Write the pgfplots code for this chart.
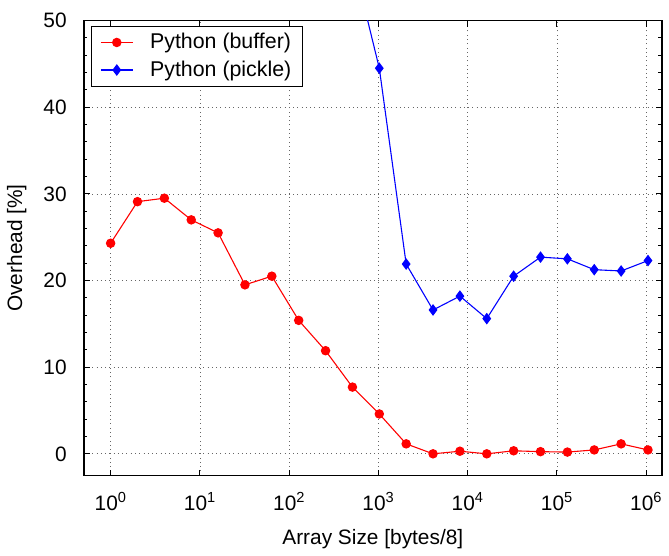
\documentclass[border=0pt]{standalone}
\usepackage{fontspec}
\setmainfont{Liberation Sans}
\usepackage{pgfplots}
\pgfplotsset{compat=1.18}
\begin{document}
\fontsize{21}{25}\selectfont
\begin{tikzpicture}
\begin{axis}[
  scale only axis, width=582pt, height=458pt,
  xmode=log, log basis x=10,
  xmin=0.5, xmax=1.5e6, ymin=-2.5, ymax=50,
  xtick={1,10,100,1000,10000,100000,1000000},
  xticklabels={10\textsuperscript{0},10\textsuperscript{1},10\textsuperscript{2},10\textsuperscript{3},10\textsuperscript{4},10\textsuperscript{5},10\textsuperscript{6}},
  ytick={0,10,20,30,40,50},
  minor y tick num=4,
  /pgf/number format/assume math mode=true,
  grid=major,
  grid style={black!60, line width=0.7pt, dash pattern=on 0.8pt off 3.5pt},
  axis line style={line width=1.6pt},
  tick style={black, line width=0.8pt},
  major tick length=6pt, minor tick length=3.5pt,
  xticklabel style={yshift=-10pt},
  yticklabel style={xshift=-10pt},
  xlabel={Array Size [bytes/8]},
  ylabel={Overhead [\%]},
  xlabel style={yshift=-5pt},
  ylabel style={yshift=3pt},
  legend style={at={(0,1)}, anchor=north west, xshift=7pt, yshift=-5pt,
    draw=black, line width=1.4pt, inner xsep=9pt, inner ysep=5pt,
    row sep=5pt, cells={anchor=west}, font=\fontsize{21.5}{25}\selectfont,
    /tikz/every odd column/.append style={column sep=15pt}},
  legend image code/.code={\draw[mark repeat=2,mark phase=2] plot coordinates {(0pt,0pt)(16pt,0pt)(32pt,0pt)};},
  clip=true,
]
\addplot[red, line width=1.1pt, mark=*, mark size=4.2pt, mark options={solid, fill=red, draw=red}] coordinates {
  (1,24.3) (2,29.1) (4,29.5) (8,27.0) (16,25.5) (32,19.5) (64,20.5)
  (128,15.4) (256,11.9) (512,7.7) (1024,4.6) (2048,1.15) (4096,0.0)
  (8192,0.3) (16384,0.0) (32768,0.35) (65536,0.25) (131072,0.2)
  (262144,0.45) (524288,1.15) (1048576,0.45)
};
\addlegendentry{Python (buffer)}
\addplot[blue, line width=1.1pt, mark=diamond*, mark size=5pt, mark options={solid, fill=blue, draw=blue}] coordinates {
  (512,57.2) (1024,44.5) (2048,21.9) (4096,16.6) (8192,18.2) (16384,15.6)
  (32768,20.5) (65536,22.7) (131072,22.5) (262144,21.25) (524288,21.1)
  (1048576,22.3)
};
\addlegendentry{Python (pickle)}
\end{axis}
\path (current axis.north west) ++(0,20.7pt);
\end{tikzpicture}
\end{document}
